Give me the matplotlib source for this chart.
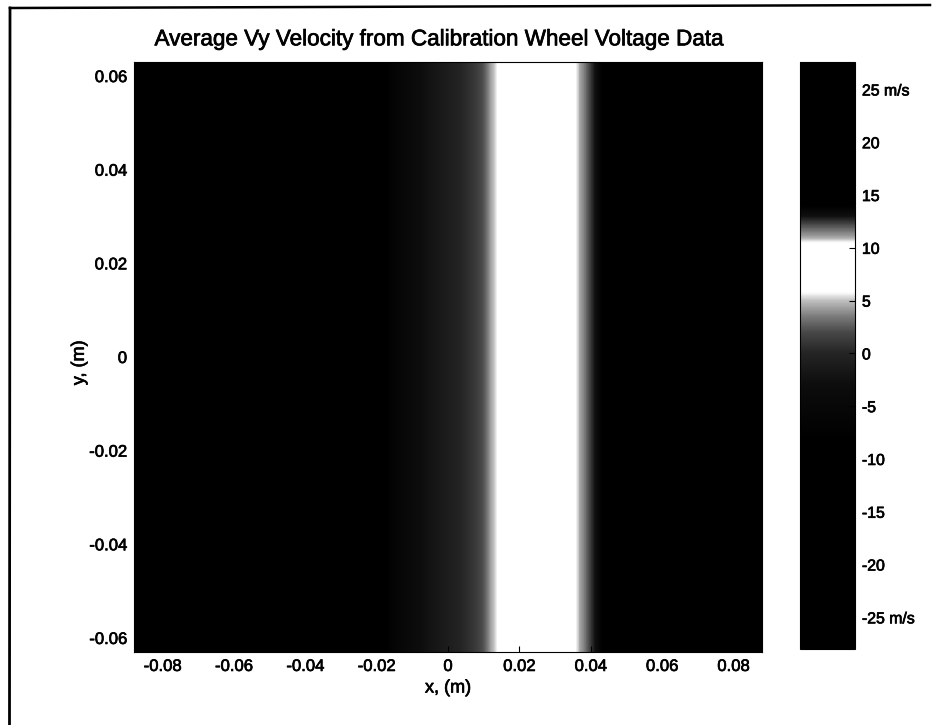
import matplotlib
matplotlib.use("Agg")
import matplotlib.pyplot as plt
import matplotlib.patheffects as pe
from matplotlib.colors import LinearSegmentedColormap, Normalize
from matplotlib.lines import Line2D
import numpy as np

W, H = 946, 725

# Velocity profile across x (m/s), one value every 0.002 m from -0.088 to 0.088
vy_profile = [
    -27, -26.5, -26, -25.5, -25, -24.5, -24, -23.5, -23, -22.5, -22, -21.5,
    -21, -20.5, -20, -19.5, -19, -18.5, -18, -17.5, -17, -16.5, -16, -15.5,
    -15, -14.5, -14, -13.5, -13, -12.5, -12, -11.5, -11, -10.5, -10,
    -8, -6.5, -5.5, -4.5, -3.6, -3, -2.4, -1.8, -1.3, -0.8, -0.3, 0.2, 0.7, 1.4, 2.4,
    4.4, 5.9, 6.2, 6.5, 6.9, 7.3, 7.7, 8.1, 8.5, 8.9, 9.3, 9.8, 10.5, 11.3,
    12.3, 13.2, 14.2, 15.5, 16, 16.5, 17, 17.5, 18, 18.5, 19, 19.5, 20, 20.5, 21,
    21.5, 22, 22.5, 23, 23.5, 24, 24.5, 25, 25.5, 26,
]
x_ticks = [-0.08, -0.06, -0.04, -0.02, 0, 0.02, 0.04, 0.06, 0.08]
x_labels = ["-0.08", "-0.06", "-0.04", "-0.02", "0", "0.02", "0.04", "0.06", "0.08"]
y_ticks = [-0.06, -0.04, -0.02, 0, 0.02, 0.04, 0.06]
y_labels = ["-0.06", "-0.04", "-0.02", "0", "0.02", "0.04", "0.06"]
cb_ticks = [-25, -20, -15, -10, -5, 0, 5, 10, 15, 20, 25]
cb_labels = ["-25 m/s", "-20", "-15", "-10", "-5", "0", "5", "10", "15", "20", "25 m/s"]
# Gray level seen at each velocity on the scale bar
cb_values = [-28, -8, -3, 0, 2, 3.5, 5, 5.8, 10.5, 11, 12, 13, 14, 27.6]
cb_grays = [0, 0, 0.05, 0.14, 0.28, 0.48, 0.75, 1, 1, 0.65, 0.35, 0.06, 0, 0]

plt.rcParams["font.family"] = ["Liberation Sans", "DejaVu Sans"]
FS = 12.0
thick = [pe.withStroke(linewidth=0.5, foreground="black")]

vmin, vmax = cb_values[0], cb_values[-1]
stops = [(v - vmin) / (vmax - vmin) for v in cb_values]
cmap = LinearSegmentedColormap.from_list(
    "scan", [(s, (g, g, g)) for s, g in zip(stops, cb_grays)], N=1024)
norm = Normalize(vmin, vmax)

fig = plt.figure(figsize=(W / 100, H / 100), dpi=100, facecolor="white")


def box(l, t, r, b):
    return [l / W, 1 - b / H, (r - l) / W, (b - t) / H]


ax = fig.add_axes(box(134, 62, 762, 652))
im = ax.imshow([vy_profile, vy_profile], cmap=cmap, norm=norm, aspect="auto",
               extent=[-0.088, 0.088, -0.063, 0.063], origin="lower",
               interpolation="bilinear", interpolation_stage="data")
ax.set_xticks(x_ticks, x_labels)
ax.set_yticks(y_ticks, y_labels)
ax.tick_params(direction="in", length=4, width=0.8, labelsize=FS, pad=5)
for s in ax.spines.values():
    s.set_linewidth(0.8)
ax.set_title("Average Vy Velocity from Calibration Wheel Voltage Data",
             fontsize=16.2, pad=12, path_effects=thick, x=0.487)
ax.set_xlabel("x, (m)", fontsize=FS + 1, labelpad=4, path_effects=thick)
ax.set_ylabel("y, (m)", fontsize=FS + 1, labelpad=1, y=0.49, path_effects=thick)
for t in ax.get_xticklabels() + ax.get_yticklabels():
    t.set_path_effects(thick)

cax = fig.add_axes(box(800, 62, 855, 649))
cb = fig.colorbar(im, cax=cax)
cb.set_ticks(cb_ticks, labels=cb_labels)
cb.ax.tick_params(direction="in", length=4, width=0.8, labelsize=FS - 0.6, pad=5,
                  color="black")
cb.outline.set_linewidth(0.8)
for t in cb.ax.get_yticklabels():
    t.set_path_effects(thick)

# Scanned page frame: top and left rules only
fig.add_artist(Line2D([10 / W, 930 / W], [1 - 8 / H, 1 - 5 / H], color="black", lw=1.8))
fig.add_artist(Line2D([10 / W, 9.5 / W], [1 - 8 / H, 0], color="black", lw=2))

fig.savefig("out.png", dpi=100, facecolor="white")
